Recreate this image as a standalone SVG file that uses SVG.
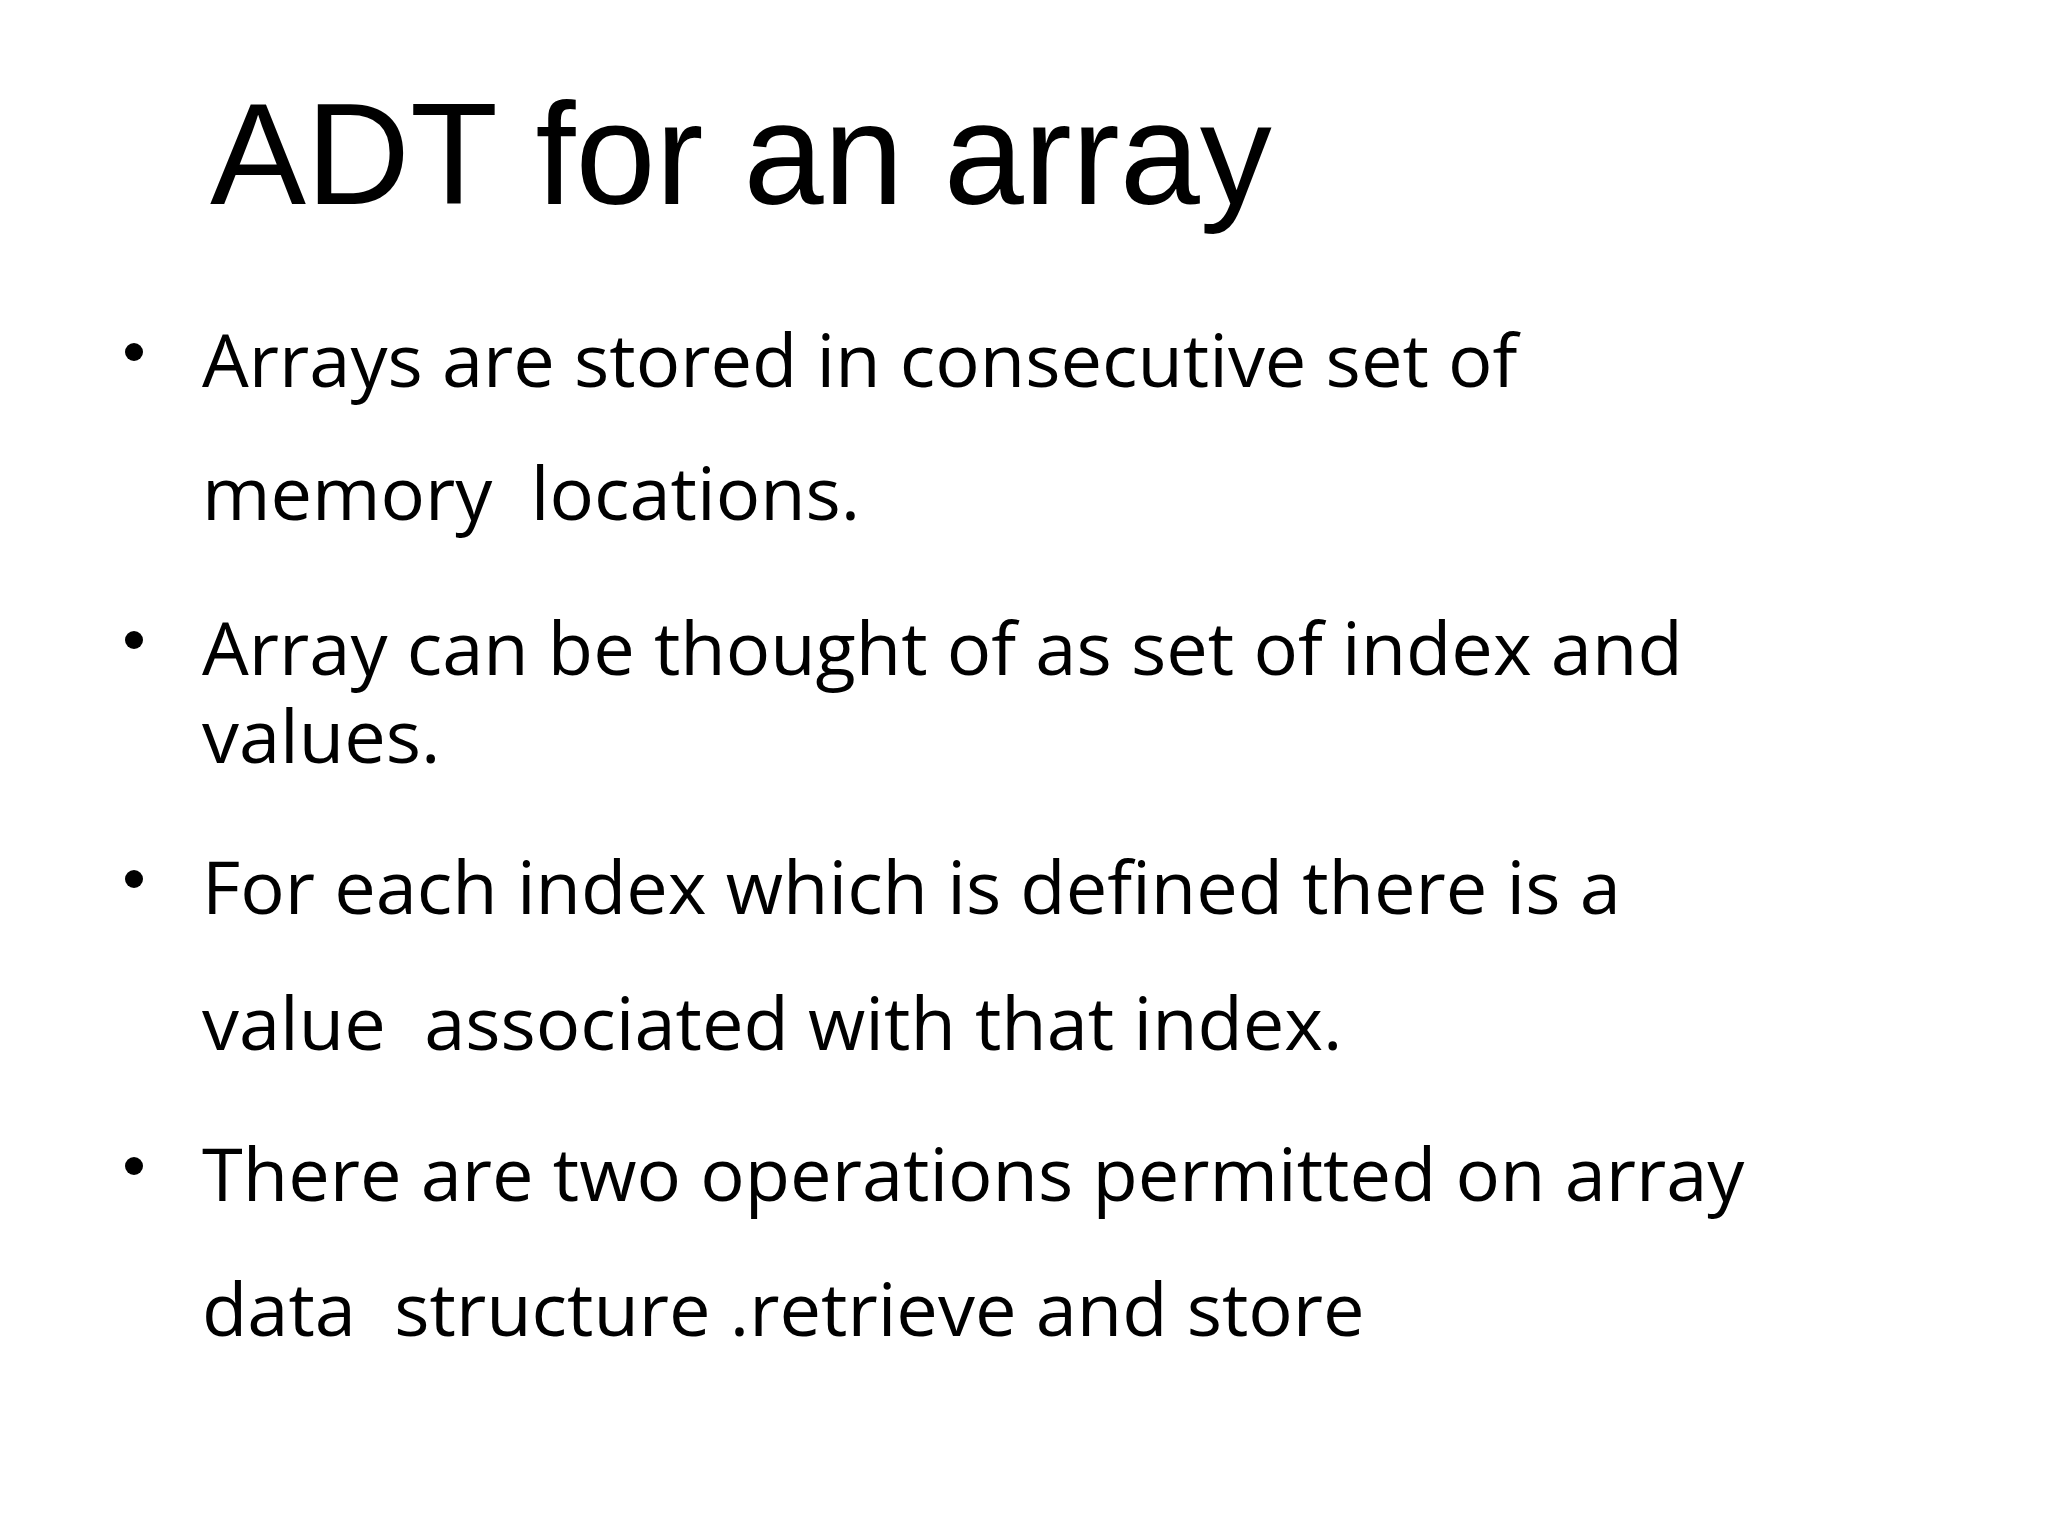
<svg xmlns="http://www.w3.org/2000/svg" width="2048" height="1536" viewBox="0 0 2048 1536">
<style>
.t{font-family:"Liberation Sans",Arial,sans-serif;font-size:144px;fill:#000}
.b{font-family:"Open Sans","Noto Sans",sans-serif;font-size:74px;fill:#000}
</style>
<rect width="2048" height="1536" fill="#fff"/>
<g id="title"><text class="t" x="210" y="204">ADT for an array</text></g>
<g id="bullets">
<circle cx="134" cy="352" r="9"/>
<text class="b" x="202" y="387">Arrays are stored in consecutive set of</text>
<text class="b" x="202" y="520" xml:space="preserve">memory  locations.</text>
<circle cx="134" cy="640" r="9"/>
<text class="b" x="202" y="675">Array can be thought of as set of index and</text>
<text class="b" x="202" y="763">values.</text>
<circle cx="134" cy="879" r="9"/>
<text class="b" x="202" y="914">For each index which is defined there is a</text>
<text class="b" x="202" y="1050" xml:space="preserve">value  associated with that index.</text>
<circle cx="134" cy="1166" r="9"/>
<text class="b" x="202" y="1201">There are two operations permitted on array</text>
<text class="b" x="202" y="1336" xml:space="preserve">data  structure .retrieve and store</text>
</g>
</svg>
